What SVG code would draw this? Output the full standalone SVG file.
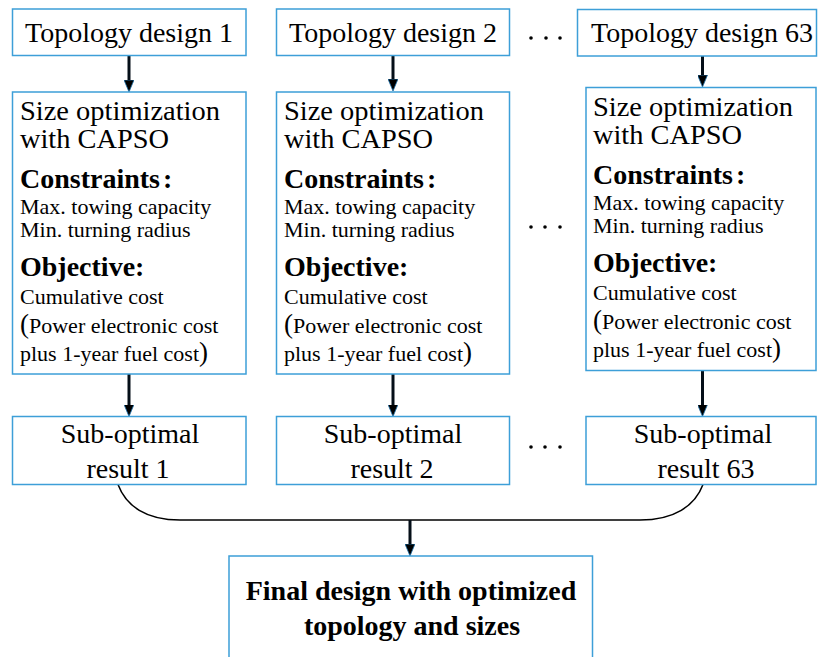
<svg xmlns="http://www.w3.org/2000/svg" width="818" height="657" viewBox="0 0 818 657">
<style>
.box{fill:#fff;stroke:#3d9fd8;stroke-width:1.5}
text{font-family:"Liberation Serif","Times New Roman",serif;fill:#000}
.t28{font-size:28px}
.t27{font-size:27px}
.t22{font-size:22px}
.b28{font-size:28px;font-weight:bold}
.mid{text-anchor:middle}
.shaft{stroke:#050f18;stroke-width:3;fill:none;marker-end:url(#ah)}
.curve{stroke:#000;stroke-width:1.5;fill:none}
.dot{fill:#000}
</style>
<defs>
<marker id="ah" viewBox="0 0 12 10" refX="6" refY="5" markerWidth="12" markerHeight="10" markerUnits="userSpaceOnUse" orient="auto">
<path d="M0,0 L12,5 L0,10 z" fill="#000" stroke="#1c6fa8" stroke-width="0.8"/>
</marker>
</defs>
<rect width="818" height="657" fill="#fff"/>

<g id="connectors">
<line class="shaft" x1="129" y1="55.5" x2="129" y2="86"/>
<line class="shaft" x1="393" y1="55.5" x2="393" y2="85"/>
<line class="shaft" x1="702.5" y1="56" x2="702.5" y2="81"/>
<line class="shaft" x1="129" y1="374" x2="129" y2="410.5"/>
<line class="shaft" x1="393" y1="374" x2="393" y2="410.5"/>
<line class="shaft" x1="702.5" y1="370.5" x2="702.5" y2="410.5"/>
<path class="curve" d="M118,484.5 C126,506 146,520 180,520 L640,520 C674,520 695,506 703,484.5"/>
<line class="shaft" x1="410" y1="520" x2="410" y2="550"/>
</g>

<g id="top1"><rect class="box" x="12.5" y="9" width="233.5" height="46.5"/><text class="t28 mid" x="129" y="42">Topology design 1</text></g>
<g id="top2"><rect class="box" x="276.5" y="9" width="233" height="46.5"/><text class="t28 mid" x="393" y="42">Topology design 2</text></g>
<g id="top63"><rect class="box" x="577.5" y="9.5" width="239" height="46.5"/><text class="t28 mid" x="702" y="42">Topology design 63</text></g>

<g id="dots">
<circle class="dot" cx="531" cy="38" r="1.8"/><circle class="dot" cx="546" cy="38" r="1.8"/><circle class="dot" cx="560" cy="38" r="1.8"/>
<circle class="dot" cx="531" cy="227" r="1.8"/><circle class="dot" cx="545" cy="227" r="1.8"/><circle class="dot" cx="560" cy="227" r="1.8"/>
<circle class="dot" cx="531" cy="447" r="1.8"/><circle class="dot" cx="545" cy="447" r="1.8"/><circle class="dot" cx="560" cy="447" r="1.8"/>
</g>

<g id="size1">
<rect class="box" x="12.5" y="92" width="233.5" height="282"/>
<text class="t27" x="20" y="120" textLength="200" lengthAdjust="spacingAndGlyphs">Size optimization</text>
<text class="t27" x="20" y="148" textLength="149" lengthAdjust="spacingAndGlyphs">with CAPSO</text>
<text class="b28" x="20" y="188">Constraints<tspan dx="3">:</tspan></text>
<text class="t22" x="20" y="214">Max. towing capacity</text>
<text class="t22" x="20" y="237">Min. turning radius</text>
<text class="b28" x="20" y="276">Objective:</text>
<text class="t22" x="20" y="304">Cumulative cost</text>
<text class="t22" x="20" y="333"><tspan font-size="27">(</tspan>Power electronic cost</text>
<text class="t22" x="20" y="361">plus 1-year fuel cost<tspan font-size="27">)</tspan></text>
</g>

<g id="size2">
<rect class="box" x="276.5" y="92" width="233" height="282"/>
<text class="t27" x="284" y="120" textLength="200" lengthAdjust="spacingAndGlyphs">Size optimization</text>
<text class="t27" x="284" y="148" textLength="149" lengthAdjust="spacingAndGlyphs">with CAPSO</text>
<text class="b28" x="284" y="188">Constraints<tspan dx="3">:</tspan></text>
<text class="t22" x="284" y="214">Max. towing capacity</text>
<text class="t22" x="284" y="237">Min. turning radius</text>
<text class="b28" x="284" y="276">Objective:</text>
<text class="t22" x="284" y="304">Cumulative cost</text>
<text class="t22" x="284" y="333"><tspan font-size="27">(</tspan>Power electronic cost</text>
<text class="t22" x="284" y="361">plus 1-year fuel cost<tspan font-size="27">)</tspan></text>
</g>

<g id="size63">
<rect class="box" x="586" y="87.5" width="230" height="283"/>
<text class="t27" x="593" y="116" textLength="200" lengthAdjust="spacingAndGlyphs">Size optimization</text>
<text class="t27" x="593" y="144" textLength="149" lengthAdjust="spacingAndGlyphs">with CAPSO</text>
<text class="b28" x="593" y="184">Constraints<tspan dx="3">:</tspan></text>
<text class="t22" x="593" y="210">Max. towing capacity</text>
<text class="t22" x="593" y="233">Min. turning radius</text>
<text class="b28" x="593" y="272">Objective:</text>
<text class="t22" x="593" y="300">Cumulative cost</text>
<text class="t22" x="593" y="329"><tspan font-size="27">(</tspan>Power electronic cost</text>
<text class="t22" x="593" y="357">plus 1-year fuel cost<tspan font-size="27">)</tspan></text>
</g>

<g id="sub1"><rect class="box" x="12.5" y="416.5" width="233.5" height="68"/><text class="t28 mid" x="130" y="443">Sub-optimal</text><text class="t28 mid" x="128" y="478">result 1</text></g>
<g id="sub2"><rect class="box" x="276.5" y="416.5" width="233" height="68"/><text class="t28 mid" x="393" y="443">Sub-optimal</text><text class="t28 mid" x="392" y="478">result 2</text></g>
<g id="sub63"><rect class="box" x="586" y="416.5" width="230" height="68"/><text class="t28 mid" x="703" y="443">Sub-optimal</text><text class="t28 mid" x="706" y="478">result 63</text></g>

<g id="final"><rect class="box" x="229" y="556" width="363.5" height="110"/><text class="b28 mid" x="411" y="600">Final design with optimized</text><text class="b28 mid" x="412" y="635">topology and sizes</text></g>
</svg>
